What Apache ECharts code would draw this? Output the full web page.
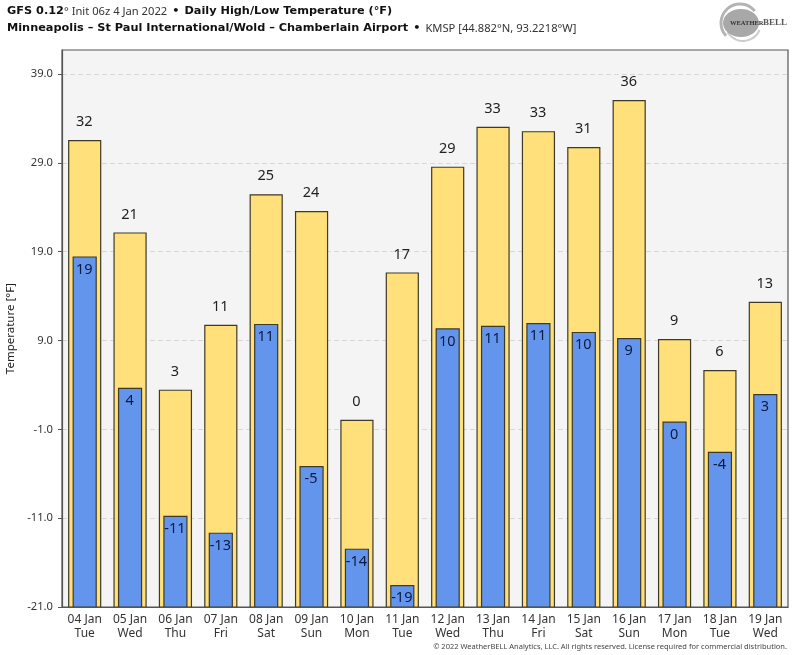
<!DOCTYPE html>
<html style="height: 100%">

<head>
    <meta charset="utf-8">
</head>

<body style="height: 100%; margin: 0; background: #fff">
<div id="container" style="height: 100%"></div>
<script type="text/javascript" src="https://cdn.jsdelivr.net/npm/echarts@6/dist/echarts.min.js"></script>
<script type="text/javascript">
    var categories = ['04 Jan\nTue', '05 Jan\nWed', '06 Jan\nThu', '07 Jan\nFri', '08 Jan\nSat', '09 Jan\nSun', '10 Jan\nMon', '11 Jan\nTue',
        '12 Jan\nWed', '13 Jan\nThu', '14 Jan\nFri', '15 Jan\nSat', '16 Jan\nSun', '17 Jan\nMon', '18 Jan\nTue', '19 Jan\nWed'];
    var highs = [31.5, 21.1, 3.4, 10.7, 25.4, 23.5, 0, 16.6, 28.5, 33, 32.5, 30.7, 36, 9.1, 5.6, 13.3];
    var lows = [18.4, 3.6, -10.8, -12.7, 10.8, -5.2, -14.5, -18.6, 10.3, 10.6, 10.9, 9.9, 9.2, -0.2, -3.6, 2.9];
    var highLabels = [32, 21, 3, 11, 25, 24, 0, 17, 29, 33, 33, 31, 36, 9, 6, 13];
    var lowLabels = [19, 4, -11, -13, 11, -5, -14, -19, 10, 11, 11, 10, 9, 0, -4, 3];
    var yTicks = [-21, -11, -1, 9, 19, 29, 39];

    var FONT = '"Noto Sans", sans-serif';

    // bars have to start at the axis bottom, not at zero, so they are custom series
    function barSeries(values, labels, width, fill, labelDy, labelColor) {
        return {
            type: 'custom',
            data: values.map(function (v, i) { return [i, v, labels[i]]; }),
            encode: { x: 0, y: 1 },
            clip: true,
            renderItem: function (params, api) {
                var top = api.coord([api.value(0), api.value(1)]);
                var bottom = api.coord([api.value(0), -21]);
                return {
                    type: 'group',
                    children: [{
                        type: 'rect',
                        shape: { x: top[0] - width / 2, y: top[1], width: width, height: bottom[1] - top[1] },
                        style: { fill: fill, stroke: '#3d3a28', lineWidth: 1.2 }
                    }, {
                        type: 'text',
                        style: {
                            x: top[0] - 0.5, y: top[1] + labelDy,
                            text: String(api.value(2)),
                            fill: labelColor,
                            font: '14.5px ' + FONT,
                            align: 'center', verticalAlign: 'middle'
                        }
                    }]
                };
            }
        };
    }

    var dom = document.getElementById("container");
    var myChart = echarts.init(dom);
    var boldText = { fontFamily: 'DejaVu Sans', fontWeight: 'bold', fontSize: 11.3, color: '#111', lineHeight: 17 };
    var plainText = { fontFamily: 'Noto Sans', fontWeight: 'normal', fontSize: 11.2, color: '#333', lineHeight: 17 };
    var option = {
        backgroundColor: '#fff',
        animation: false,
        grid: {
            left: 62, right: 12, top: 50, bottom: 48, outerBoundsMode: 'none',
            backgroundColor: '#f4f4f4', show: true, borderColor: '#555', borderWidth: 1.2
        },
        title: [{
            left: 2, top: -2,
            text: '{b|GFS 0.12}{r|° Init 06z 4 Jan 2022} {b|•} {b|Daily High/Low Temperature (°F)}\n{b|Minneapolis – St Paul International/Wold – Chamberlain Airport} {b|•} {r|KMSP [44.882°N, 93.2218°W]}',
            textStyle: { lineHeight: 17, rich: { b: boldText, r: plainText } }
        }, {
            right: 8, top: 638,
            text: '© 2022 WeatherBELL Analytics, LLC. All rights reserved. License required for commercial distribution.',
            textStyle: { fontFamily: 'Noto Sans', fontSize: 7.5, fontWeight: 'normal', color: '#444' }
        }],
        xAxis: {
            type: 'category',
            data: categories,
            axisTick: { show: false },
            axisLine: { onZero: false, lineStyle: { color: '#555', width: 1.2 } },
            axisLabel: { color: '#333', fontFamily: 'Noto Sans', fontSize: 12, lineHeight: 14, margin: 6, interval: 0 }
        },
        yAxis: {
            type: 'value',
            min: -21,
            max: 41.7,
            name: 'Temperature [°F]',
            nameLocation: 'middle',
            nameGap: 43,
            nameTextStyle: { color: '#222', fontFamily: 'Noto Sans', fontSize: 11.5 },
            axisLine: { show: true, onZero: false, lineStyle: { color: '#555', width: 1.2 } },
            axisTick: { show: true, length: 4, customValues: yTicks, lineStyle: { color: '#555' } },
            axisLabel: {
                color: '#333', fontFamily: 'Noto Sans', fontSize: 11.2, margin: 9, customValues: yTicks,
                formatter: function (v) { return v.toFixed(1); }
            },
            splitLine: { show: true, lineStyle: { color: '#d8d8d8', type: [5, 3] } }
        },
        series: [
            barSeries(highs, highLabels, 32, '#ffe07a', -18.5, '#222'),
            barSeries(lows, lowLabels, 23, '#6495ed', 12.5, '#0a1a40')
        ],
        graphic: [
            { type: 'arc', shape: { cx: 740, cy: 23, r: 19, startAngle: 2.4, endAngle: 5.6 }, style: { stroke: '#b4b4b4', fill: 'none', lineWidth: 3 } },
            { type: 'arc', shape: { cx: 743, cy: 23, r: 18, startAngle: 0.4, endAngle: 2.6 }, style: { stroke: '#cccccc', fill: 'none', lineWidth: 2 } },
            { type: 'ellipse', shape: { cx: 741, cy: 23, rx: 18, ry: 14 }, style: { fill: '#a8a8a8' } },
            { type: 'text', style: { x: 730, y: 23, text: 'WEATHER', fill: '#333', font: 'bold 6.5px "Liberation Serif"', verticalAlign: 'middle' } },
            { type: 'text', style: { x: 763, y: 23, text: 'BELL', fill: '#555', font: 'bold 9px "Liberation Serif"', verticalAlign: 'middle' } }
        ]
    };
    myChart.setOption(option, true);
</script>
</body>

</html>
